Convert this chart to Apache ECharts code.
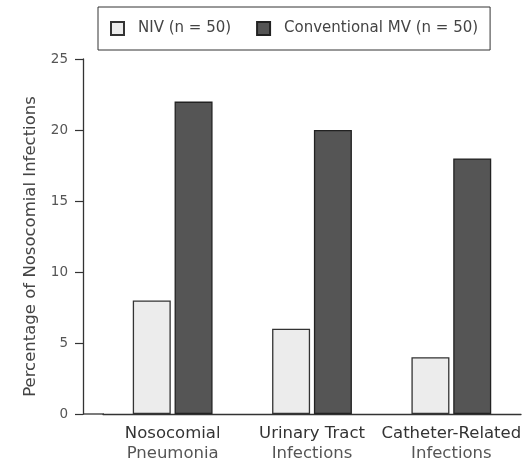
<!DOCTYPE html>
<html>
<head>
<meta charset="utf-8">
<script src="https://cdn.jsdelivr.net/npm/echarts@6/dist/echarts.min.js"></script>
<style>
  html, body { margin: 0; padding: 0; background: #fff; }
  #chart { width: 528px; height: 465px; }
</style>
</head>
<body>
<div id="chart"></div>
<script>
// infection types (two lines each)
var categories = [
  ['Nosocomial', 'Pneumonia'],
  ['Urinary Tract', 'Infections'],
  ['Catheter-Related', 'Infections']
];
var seriesNames = ['NIV (n = 50)', 'Conventional MV (n = 50)'];
var nivValues = [8, 6, 4];
var mvValues = [22, 20, 18];
var yTicks = [0, 5, 10, 15, 20, 25];

var FONT = 'DejaVu Sans';
var gridLeft = 103, gridBottom = 51;

var chart = echarts.init(document.getElementById('chart'));

var option = {
  animation: false,
  textStyle: { fontFamily: FONT },
  legend: {
    data: seriesNames,
    left: 98,
    top: 7,
    padding: [14, 12, 14, 12],
    borderColor: '#333',
    borderWidth: 1,
    itemWidth: 13,
    itemHeight: 13,
    itemGap: 25,
    icon: 'rect',
    textStyle: {
      fontFamily: FONT,
      fontSize: 15,
      color: '#444',
      padding: [0, 0, 0, 9]
    }
  },
  grid: {
    left: gridLeft,
    right: 7,
    top: 59,
    bottom: gridBottom,
    containLabel: false
  },
  xAxis: {
    type: 'category',
    data: categories.map(function (c) { return c.join('\n'); }),
    axisLine: { lineStyle: { color: '#333', width: 1.3 } },
    axisTick: { show: false },
    axisLabel: {
      interval: 0,
      margin: 10,
      formatter: function (v) {
        var p = v.split('\n');
        return '{a|' + p[0] + '}\n{b|' + p[1] + '}';
      },
      rich: {
        a: { fontFamily: FONT, fontSize: 16.5, color: '#333', lineHeight: 20 },
        b: { fontFamily: FONT, fontSize: 16.5, color: '#555', lineHeight: 20 }
      }
    }
  },
  yAxis: {
    type: 'value',
    min: yTicks[0],
    max: yTicks[yTicks.length - 1],
    interval: yTicks[1] - yTicks[0],
    offset: 20,
    name: 'Percentage of Nosocomial Infections',
    nameLocation: 'middle',
    nameGap: 44,
    nameTextStyle: {
      fontFamily: FONT,
      fontSize: 16.5,
      color: '#444',
      padding: [0, 20, 0, 0]
    },
    splitLine: { show: false },
    axisLine: { show: true, lineStyle: { color: '#333', width: 1.3 } },
    axisTick: { show: true, length: 8, lineStyle: { color: '#333', width: 1.2 } },
    axisLabel: { fontFamily: FONT, fontSize: 13.5, color: '#555', margin: 15 }
  },
  series: [
    {
      name: seriesNames[0],
      type: 'bar',
      data: nivValues,
      barWidth: 38,
      barGap: '10%',
      itemStyle: { color: '#ececec', borderColor: '#333', borderWidth: 1.3 }
    },
    {
      name: seriesNames[1],
      type: 'bar',
      data: mvValues,
      barWidth: 38,
      barGap: '10%',
      itemStyle: { color: '#555555', borderColor: '#222', borderWidth: 1.3 }
    }
  ],
  graphic: [
    {
      // baseline continues left to the offset y axis
      type: 'line',
      shape: { x1: gridLeft - 20, y1: 465 - gridBottom, x2: gridLeft + 1, y2: 465 - gridBottom },
      style: { stroke: '#333', lineWidth: 1.3 }
    }
  ]
};

chart.setOption(option);
</script>
</body>
</html>
